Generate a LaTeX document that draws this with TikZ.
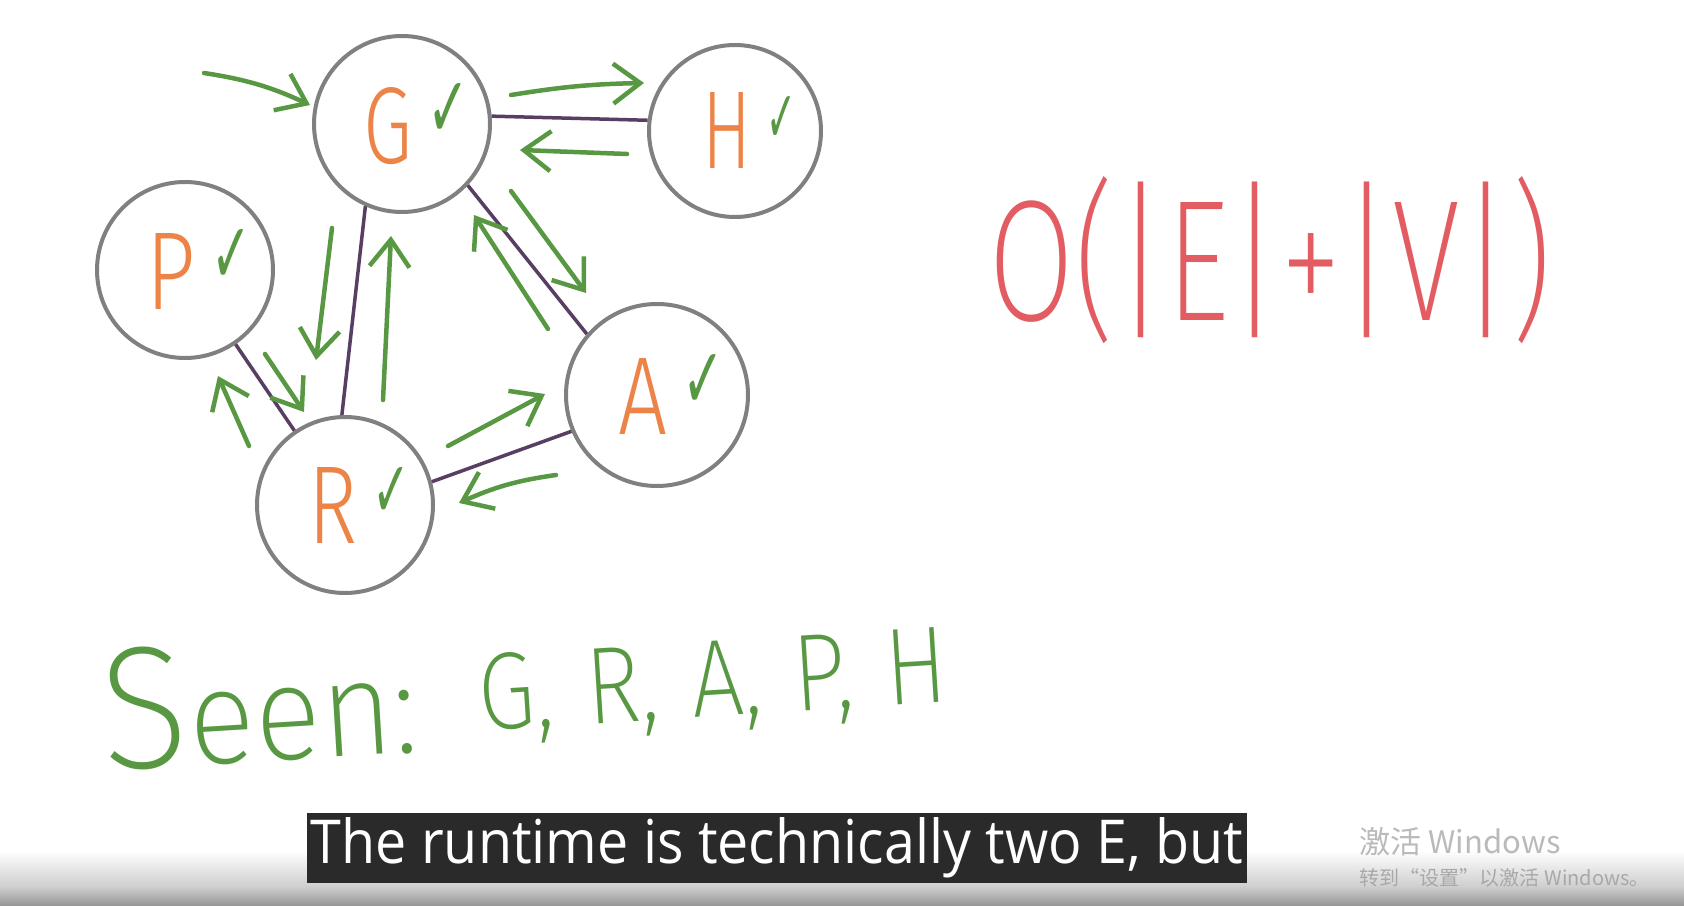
\documentclass[tikz,border=0pt]{standalone}
\usepackage{fontspec}
\usepackage{graphicx}
\usepackage{xcolor}
\newfontfamily\handfont{Fira Sans ExtraLight}
\newfontfamily\letterfont{Fira Sans Light}
\newfontfamily\tickfont{DejaVu Sans}
\newfontfamily\subfont{Open Sans}
\newfontfamily\cjkfont{Noto Sans CJK SC}
\usetikzlibrary{arrows,arrows.meta,automata,positioning,calc}

\definecolor{letterorange}{RGB}{236,132,72}
\definecolor{tickgreen}{RGB}{88,152,66}
\definecolor{linkpurple}{RGB}{88,62,98}
\definecolor{ringgray}{RGB}{128,128,128}
\definecolor{bigred}{RGB}{226,92,98}
\definecolor{subbg}{RGB}{42,42,42}
\definecolor{wmgray}{RGB}{186,186,186}
\definecolor{wmgraydark}{RGB}{168,168,168}
\definecolor{shademid}{RGB}{205,205,205}
\definecolor{shadegray}{RGB}{148,148,148}

\newcommand{\vtxlabel}[3]{\kern2.8mm\textcolor{letterorange}{\resizebox{4.9mm}{7.6mm}{#1}}\kern1.5mm\raisebox{2.6mm}{\textcolor{tickgreen}{\resizebox{#2}{#3}{\tickfont ✓}}}}

\begin{document}
\begin{tikzpicture}[->,>={Straight Barb[length=2.7mm,width=4mm]}, x=0.1mm, y=-0.1mm,
	every state/.style={draw=ringgray, line width=0.4mm, minimum size=17.6mm, inner sep=0pt, font=\letterfont},
	link/.style={-, draw=linkpurple, line width=0.35mm},
	flow/.style={color=tickgreen, line width=0.45mm, line cap=round},
	scrawl/.style={inner sep=0pt, text=tickgreen, font=\handfont}]

	\useasboundingbox (0,0) rectangle (1684,906);
	\fill[white] (0,0) rectangle (1684,906);
	\shade[top color=white, bottom color=shademid] (0,850) rectangle (1684,888);
	\shade[top color=shademid, bottom color=shadegray] (0,887) rectangle (1684,906);

	\node[state, shift = {(402, 124)}] (g) {\vtxlabel{G}{4.2mm}{5.4mm}};
	\node[state, shift = {(735, 131)}, minimum size=17.2mm] (h) {\vtxlabel{H}{3mm}{4.6mm}};
	\node[state, shift = {(185, 270)}] (p) {\vtxlabel{P}{4mm}{5.4mm}};
	\node[state, shift = {(657, 395)}, minimum size=18.2mm] (a) {\vtxlabel{A}{4.2mm}{5.4mm}};
	\node[state, shift = {(345, 505)}] (r) {\vtxlabel{R}{3.8mm}{5mm}};

	\draw[link] (g.5) -- (h.173);
	\draw[link] (g.246) -- (r.92);
	\draw[link] (g.-43) -- (a.139);
	\draw[link] (p) -- (r);
	\draw[link] (r.15) -- (a.-157);

	% traversal
	\coordinate (entry) at ($(g) + (-198, -51)$);
	\path[flow] (entry) edge [bend left=8] ($(g) + (-92, -19)$);
	\path[flow] ($(g) + (109, -29)$) edge [bend left=4] ($(h) + (-91, -48)$);
	\path[flow] ($(h) + (-108, 23)$) edge [] ($(g) + (118, 26)$);
	\path[flow] ($(g) + (109, 67)$) edge [] ($(a) + (-71, -102)$);
	\path[flow] ($(a) + (-109, -66)$) edge [] ($(g) + (72, 91)$);
	\path[flow] ($(g) + (-70, 104)$) edge [] ($(r) + (-29, -145)$);
	\path[flow] ($(r) + (38, -105)$) edge [] ($(g) + (-11, 112)$);
	\path[flow] ($(p) + (80, 84)$) edge [] ($(r) + (-41, -93)$);
	\path[flow] ($(r) + (-96, -59)$) edge [] ($(p) + (33, 106)$);
	\path[flow] ($(r) + (103, -59)$) edge [] ($(a) + (-112, -1)$);
	\path[flow] ($(a) + (-101, 80)$) edge [bend right=8] ($(r) + (114, -2)$);

	\node[scrawl, anchor=base west, shift = {(104, 771)}, rotate=3.5] (seen) {\resizebox{31.6mm}{12.1mm}{\scalebox{1.3}{S}een:}};
	\node[scrawl, anchor=base west, shift = {(480, 731)}, rotate=3.6] (order) {\resizebox{47mm}{7.6mm}{G,\kern.35em R,\kern.35em A,\kern.35em P,\kern.35em H}};

	\node[inner sep=0pt, text=bigred, font=\handfont, shift = {(1270, 260)}] (runtime) {\resizebox{56.3mm}{14.4mm}{O(|E|+|V|)}};

	\node[fill=subbg, text=white, inner sep=0pt, minimum width=94mm, minimum height=7mm, font=\subfont, shift = {(777, 848)}] (subtitle) {\raisebox{-0.4mm}{\resizebox{93.2mm}{4.6mm}{The runtime is technically two E, but}}};

	\node[inner sep=0pt, anchor=base west, text=wmgray, font=\cjkfont, shift = {(1359, 853)}] (wmtop) {\resizebox{20.1mm}{!}{激活 Windows}};
	\node[inner sep=0pt, anchor=base west, text=wmgraydark, font=\cjkfont, shift = {(1359, 885)}] (wmbottom) {\resizebox{29mm}{!}{转到“设置”以激活 Windows。}};
\end{tikzpicture}
\end{document}
